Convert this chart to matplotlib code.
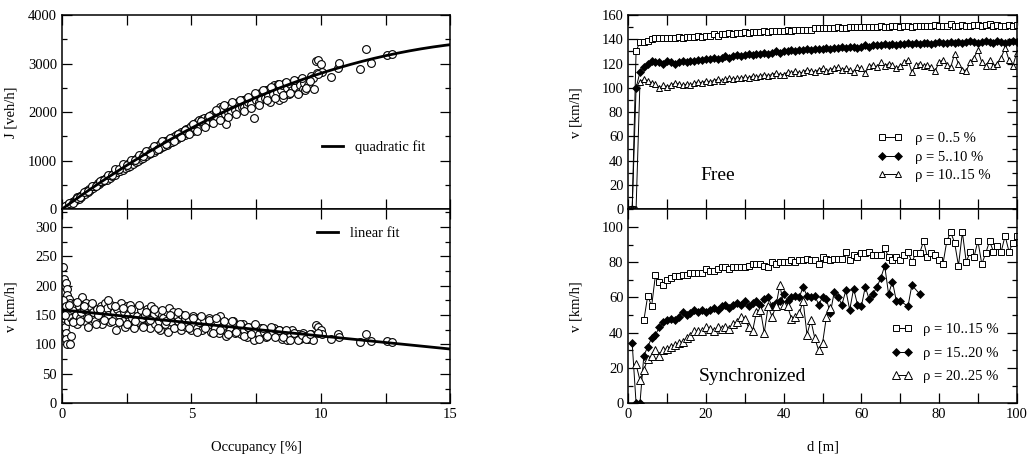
import numpy as np
import matplotlib.pyplot as plt
from matplotlib.ticker import MultipleLocator

plt.rcParams['font.family'] = ['Liberation Serif', 'DejaVu Serif']
plt.rcParams['font.size'] = 10.5

# ---- left: flow and speed vs occupancy (single vehicle data) ----
occ_J = [0.05, 0.1, 0.15, 0.2, 0.25, 0.3, 0.35, 0.4, 0.45, 0.5, 0.55, 0.6, 0.65, 0.7, 0.75, 0.8,
         0.85, 0.9, 0.95, 1.0, 1.05, 1.1, 1.15, 1.2, 1.25, 1.3, 1.35, 1.4, 1.45, 1.5, 1.55, 1.6,
         1.65, 1.7, 1.75, 1.8, 1.85, 1.9, 1.95, 2.0, 2.05, 2.1, 2.15, 2.2, 2.25, 2.3, 2.35, 2.4,
         2.45, 2.5, 2.55, 2.6, 2.65, 2.7, 2.75, 2.8, 2.85, 2.9, 2.95, 3.0, 3.05, 3.1, 3.15, 3.2,
         3.25, 3.3, 3.35, 3.4, 3.45, 3.5, 3.55, 3.6, 3.65, 3.7, 3.75, 3.8, 3.85, 3.9, 3.95, 4.0,
         4.05, 4.1, 4.15, 4.2, 4.25, 4.3, 4.35, 4.4, 4.45, 4.5, 4.55, 4.6, 4.65, 4.7, 4.75, 4.8,
         4.85, 4.9, 4.95, 5.0, 5.05, 5.1, 5.15, 5.2, 5.25, 5.3, 5.35, 5.4, 5.45, 5.5, 5.6, 5.65,
         5.7, 5.75, 5.8, 5.85, 5.9, 5.95, 6.0, 6.05, 6.1, 6.15, 6.2, 6.3, 6.35, 6.4, 6.5, 6.55,
         6.35, 6.65, 6.7, 6.8, 6.85, 6.9, 6.95, 7.0, 7.05, 7.1, 7.15, 7.2, 7.25, 7.3, 7.4, 7.45,
         7.5, 7.55, 7.6, 7.65, 7.7, 7.8, 7.85, 7.9, 7.95, 8.0, 8.05, 8.1, 8.15, 8.2, 8.3, 8.35,
         8.4, 8.45, 8.5, 8.55, 8.6, 8.7, 8.75, 8.8, 8.9, 8.95, 9.0, 9.1, 9.15, 9.2, 9.3, 9.35,
         9.4, 9.5, 9.6, 9.7, 9.75, 9.8, 9.85, 9.9, 10.0, 10.05, 10.4, 10.65, 10.7, 11.5, 11.75,
         11.95, 12.55, 12.75]
J = [20, 50, 40, 90, 80, 130, 100, 160, 150, 200, 190, 250, 220, 280, 260, 300,
     340, 320, 380, 360, 410, 400, 450, 430, 480, 470, 500, 540, 520, 560, 600, 580,
     620, 650, 610, 680, 640, 700, 690, 740, 700, 780, 760, 810, 790, 840, 800, 870,
     850, 910, 880, 950, 900, 980, 940, 1010, 970, 1050, 1000, 1080, 1030, 1120, 1060, 1150,
     1100, 1180, 1130, 1210, 1160, 1250, 1190, 1280, 1220, 1310, 1250, 1340, 1280, 1370, 1310, 1400,
     1330, 1430, 1360, 1460, 1390, 1490, 1420, 1530, 1450, 1550, 1480, 1590, 1500, 1620, 1540, 1650,
     1570, 1680, 1600, 1720, 1620, 1760, 1650, 1790, 1690, 1830, 1720, 1850, 1750, 1880, 1780, 1900,
     1820, 1950, 1850, 1970, 1880, 2020, 1900, 2050, 2100, 1940, 2080, 1970, 2120, 2000, 2150, 2030,
     1760, 2180, 2050, 2200, 2080, 2230, 2110, 2250, 2100, 2270, 2150, 2200, 2300, 2160, 1870, 2330,
     2250, 2370, 2200, 2400, 2280, 2420, 2300, 2450, 2340, 2480, 2200, 2500, 2380, 2550, 2420, 2580,
     2250, 2460, 2560, 2300, 2600, 2500, 2380, 2580, 2450, 2600, 2520, 2650, 2420, 2550, 2480, 2600,
     2450, 2560, 2750, 2700, 2480, 3060, 2800, 3070, 3000, 2820, 2720, 2900, 3010, 2890, 3300,
     3010, 3180, 3190]
# second batch of flow points (fills the cloud)
occ_J_b = [0.12, 0.27, 0.42, 0.57, 0.72, 0.87, 1.02, 1.17, 1.32, 1.47, 1.62, 1.77, 1.92, 2.07, 2.22, 2.37,
           2.52, 2.67, 2.82, 2.97, 3.12, 3.27, 3.42, 3.57, 3.72, 3.87, 4.02, 4.17, 4.32, 4.47, 4.62, 4.77,
           4.92, 5.07, 5.22, 5.37, 5.52, 5.67, 5.82, 5.97, 6.12, 6.27, 6.42, 6.57, 6.72, 6.87, 7.02, 7.17,
           7.32, 7.47, 7.62, 7.77, 7.92, 8.07, 8.22, 8.37, 8.52, 8.67, 8.82, 8.97, 9.12, 9.27, 9.42, 9.57, 9.9]
J_b = [60, 120, 140, 240, 250, 350, 370, 470, 490, 590, 600, 700, 710, 820, 830, 930,
       920, 1020, 1020, 1120, 1090, 1200, 1160, 1300, 1250, 1400, 1350, 1470, 1400, 1560, 1480, 1640,
       1560, 1750, 1620, 1820, 1700, 1920, 1770, 2050, 1830, 2140, 1900, 2200, 1960, 2250, 2020, 2320,
       2090, 2400, 2150, 2460, 2240, 2520, 2300, 2570, 2350, 2620, 2400, 2660, 2380, 2700, 2500, 2640, 2780]

occ_v = [0.05, 0.1, 0.12, 0.15, 0.2, 0.22, 0.28, 0.3, 0.08, 0.1, 0.12, 0.15, 0.18, 0.2, 0.3, 0.35,
         0.25, 0.05, 0.05, 0.15, 0.3, 0.35, 0.4, 0.45, 0.5, 0.55, 0.6, 0.65, 0.7, 0.75, 0.8, 0.85,
         0.9, 0.95, 1.0, 1.05, 1.1, 1.15, 1.2, 1.3, 1.35, 1.4, 1.5, 1.55, 1.6, 1.65, 1.7, 1.75,
         1.8, 1.85, 1.9, 2.0, 2.05, 2.1, 2.15, 2.2, 2.3, 2.35, 2.4, 2.45, 2.5, 2.55, 2.6, 2.65,
         2.7, 2.75, 2.8, 2.85, 2.9, 3.0, 3.05, 3.1, 3.15, 3.2, 3.3, 3.35, 3.4, 3.45, 3.5, 3.55,
         3.6, 3.7, 3.75, 3.8, 3.85, 3.9, 4.0, 4.05, 4.1, 4.15, 4.2, 4.25, 4.3, 4.4, 4.45, 4.5,
         4.6, 4.65, 4.7, 4.75, 4.8, 4.9, 5.0, 5.05, 5.1, 5.2, 5.25, 5.3, 5.4, 5.5, 5.6, 5.7,
         5.75, 5.8, 5.9, 6.0, 6.05, 6.1, 6.2, 6.3, 6.35, 6.4, 6.5, 6.6, 6.7, 6.75, 6.8, 6.9,
         7.0, 7.05, 7.15, 7.2, 7.3, 7.4, 7.45, 7.5, 7.6, 7.7, 7.8, 7.9, 8.0, 8.1, 8.2, 8.3,
         8.4, 8.5, 8.6, 8.7, 8.8, 8.9, 9.0, 9.1, 9.2, 9.3, 9.4, 9.5, 9.6, 9.7, 9.8, 9.9,
         10.0, 10.05, 10.4, 10.65, 10.7, 11.5, 11.75, 11.95, 12.55, 12.75]
v_occ = [232, 212, 200, 205, 195, 185, 178, 170, 160, 145, 130, 120, 110, 100, 100, 115,
         140, 175, 150, 165, 155, 145, 160, 140, 170, 150, 135, 165, 145, 155, 180, 160,
         140, 170, 130, 150, 165, 145, 155, 140, 160, 150, 165, 135, 158, 170, 145, 162,
         150, 138, 168, 155, 145, 125, 160, 150, 170, 140, 155, 130, 165, 150, 140, 168,
         145, 155, 128, 160, 148, 138, 158, 145, 132, 150, 160, 140, 128, 165, 145, 152,
         135, 155, 140, 125, 150, 145, 135, 155, 122, 162, 145, 138, 155, 130, 148, 140,
         125, 150, 138, 145, 130, 142, 125, 148, 135, 128, 145, 138, 125, 142, 132, 145,
         122, 138, 128, 140, 120, 148, 130, 138, 115, 135, 125, 140, 120, 132, 128, 118,
         135, 125, 112, 130, 120, 108, 132, 125, 118, 128, 122, 112, 125, 118, 128, 115,
         125, 110, 120, 108, 118, 125, 112, 118, 110, 120, 115, 110, 118, 108, 133, 130,
         125, 118, 110, 118, 112, 104, 118, 106, 106, 105]
occ_v_b = [0.12, 0.27, 0.42, 0.57, 0.72, 0.87, 1.02, 1.17, 1.32, 1.47, 1.62, 1.77, 1.92, 2.07, 2.22, 2.37,
           2.52, 2.67, 2.82, 2.97, 3.12, 3.27, 3.42, 3.57, 3.72, 3.87, 4.02, 4.17, 4.32, 4.47, 4.62, 4.77,
           4.92, 5.07, 5.22, 5.37, 5.52, 5.67, 5.82, 5.97, 6.12, 6.27, 6.42, 6.57, 6.72, 6.87, 7.02, 7.17,
           7.32, 7.47, 7.62, 7.77, 7.92, 8.07, 8.22, 8.37, 8.52, 8.67, 8.82, 8.97, 9.12, 9.27, 9.42, 9.57, 9.9]
v_occ_b = [150, 168, 138, 172, 140, 165, 145, 170, 135, 160, 142, 175, 140, 165, 138, 162,
           135, 160, 140, 168, 130, 155, 142, 160, 128, 158, 140, 150, 128, 155, 132, 150,
           128, 145, 122, 148, 128, 142, 120, 145, 125, 140, 118, 140, 122, 135, 115, 130,
           118, 135, 110, 128, 115, 130, 112, 124, 112, 125, 108, 120, 108, 116, 110, 118, 120]

# fit parameters
quad_a, quad_b = 388.0, -10.8      # J = a*occ + b*occ^2
lin_v0, lin_slope = 159.0, -4.45   # v = v0 + slope*occ

# ---- right: speed vs distance headway ----
d_free = np.arange(1, 101)
v_free_0_5 = [0, 130, 138, 138, 139, 140, 141, 141, 141, 141, 141, 141, 142, 141, 142, 142, 142, 143, 142, 143,
              143, 144, 143, 144, 144, 145, 144, 145, 145, 146, 145, 146, 146, 146, 147, 146, 147, 147, 147, 147,
              148, 147, 148, 148, 148, 148, 148, 149, 149, 149, 149, 149, 149, 150, 149, 149, 150, 150, 150, 150,
              150, 150, 150, 150, 151, 150, 150, 151, 151, 150, 151, 151, 150, 151, 151, 151, 151, 151, 152, 151,
              151, 151, 153, 151, 151, 152, 151, 151, 152, 152, 151, 152, 153, 151, 152, 151, 151, 152, 151, 152]
v_free_5_10 = [0, 100, 113, 117, 120, 122, 121, 121, 120, 122, 121, 120, 121, 122, 121, 122, 122, 123, 123, 124,
               124, 125, 124, 125, 126, 125, 126, 127, 126, 127, 128, 127, 128, 128, 129, 128, 129, 130, 129, 130,
               130, 131, 130, 131, 131, 132, 131, 132, 132, 132, 133, 132, 133, 133, 134, 133, 134, 134, 133, 134,
               135, 134, 135, 135, 135, 136, 135, 136, 135, 136, 136, 137, 136, 137, 136, 137, 137, 136, 137, 138,
               137, 137, 138, 137, 138, 137, 138, 139, 138, 137, 138, 139, 138, 137, 139, 138, 137, 138, 139, 138]
v_free_10_15 = [0, 0, 105, 107, 106, 104, 103, 100, 102, 101, 102, 104, 103, 102, 103, 102, 104, 105, 104, 106,
                105, 106, 107, 106, 107, 108, 107, 108, 108, 109, 108, 110, 109, 110, 111, 110, 111, 112, 111, 111,
                113, 112, 114, 112, 113, 115, 114, 113, 115, 116, 114, 115, 116, 117, 115, 116, 115, 113, 117, 116,
                112, 118, 119, 117, 121, 118, 120, 119, 116, 118, 121, 123, 113, 119, 120, 118, 119, 117, 114, 121,
                123, 119, 117, 128, 120, 115, 114, 121, 125, 131, 121, 118, 123, 118, 120, 125, 133, 123, 118, 129]

d_sync_10_15 = np.arange(4, 101)
v_sync_10_15 = [47, 61, 55, 73, 69, 67, 70, 71, 72, 72, 73, 73, 74, 74, 74, 74, 76, 75, 75, 76,
                77, 77, 76, 77, 77, 77, 77, 78, 79, 79, 79, 78, 77, 80, 79, 80, 80, 80, 81, 80,
                81, 81, 82, 81, 81, 79, 83, 82, 81, 82, 82, 82, 86, 81, 84, 83, 85, 85, 86, 84,
                84, 84, 88, 83, 81, 83, 81, 84, 86, 80, 85, 85, 92, 83, 85, 84, 81, 79, 92, 97,
                91, 78, 97, 80, 86, 83, 92, 79, 85, 92, 86, 89, 86, 95, 86, 91, 95]
d_sync_15_20 = list(range(1, 71)) + [72, 73, 75]
v_sync_15_20 = [34, 0, 0, 27, 32, 37, 39, 43, 46, 47, 48, 47, 49, 52, 50, 51, 53, 52, 53, 52,
                53, 54, 53, 55, 56, 54, 56, 57, 56, 58, 55, 57, 58, 56, 59, 60, 55, 57, 58, 62,
                58, 60, 61, 60, 66, 61, 60, 61, 56, 60, 59, 51, 63, 60, 56, 64, 53, 65, 56, 55,
                66, 59, 62, 66, 71, 78, 62, 69, 58, 58, 55, 67, 62]
d_sync_20_25 = np.arange(2, 53)
v_sync_20_25 = [22, 13, 19, 25, 27, 30, 27, 30, 31, 32, 33, 34, 35, 37, 38, 41, 41, 41, 43, 42,
                41, 43, 42, 43, 42, 45, 46, 49, 48, 43, 41, 52, 53, 40, 55, 49, 55, 67, 56, 55,
                48, 49, 51, 58, 39, 47, 37, 30, 34, 49, 54]

fig = plt.figure(figsize=(10.29, 4.59), dpi=100)
ax_J = fig.add_axes([0.0600, 0.5440, 0.3778, 0.4233])
ax_v = fig.add_axes([0.0600, 0.1214, 0.3778, 0.4226])
ax_free = fig.add_axes([0.6106, 0.5440, 0.3775, 0.4233])
ax_sync = fig.add_axes([0.6106, 0.1214, 0.3775, 0.4226])

occ_fit = np.linspace(0, 15, 200)
circ = dict(ls='none', marker='o', ms=5.6, mfc='white', mec='black', mew=0.8)

ax_J.plot(occ_J + occ_J_b, J + J_b, **circ)
ax_J.plot(occ_fit, quad_a * occ_fit + quad_b * occ_fit ** 2, color='black', lw=2.0, label='quadratic fit')
ax_J.set_xlim(0, 15)
ax_J.set_ylim(0, 4000)
ax_J.yaxis.set_major_locator(MultipleLocator(1000))
ax_J.yaxis.set_minor_locator(MultipleLocator(500))
ax_J.set_ylabel('J [veh/h]')
ax_J.tick_params(labelbottom=False)
ax_J.legend(loc='center left', bbox_to_anchor=(0.67, 0.32), frameon=False, borderpad=0,
            borderaxespad=0, handlelength=1.45, handletextpad=0.8)

ax_v.plot(occ_v + occ_v_b, v_occ + v_occ_b, **circ)
ax_v.plot(occ_fit, lin_v0 + lin_slope * occ_fit, color='black', lw=2.0, label='linear fit')
ax_v.set_xlim(0, 15)
ax_v.set_ylim(0, 330)
ax_v.yaxis.set_major_locator(MultipleLocator(50))
ax_v.yaxis.set_minor_locator(MultipleLocator(25))
ax_v.set_ylabel('v [km/h]')
ax_v.set_xlabel('Occupancy [%]')
ax_v.legend(loc='center left', bbox_to_anchor=(0.657, 0.877), frameon=False, borderpad=0,
            borderaxespad=0, handlelength=1.45, handletextpad=0.8)

for ax in (ax_J, ax_v):
    ax.xaxis.set_major_locator(MultipleLocator(5))
    ax.xaxis.set_minor_locator(MultipleLocator(2.5))

# free flow panel
ax_free.plot(d_free, v_free_0_5, color='black', lw=0.7, marker='s', ms=4, mfc='white', mew=0.7,
             label='\u03c1 = 0..5 %')
ax_free.plot(d_free, v_free_5_10, color='black', lw=0.7, marker='D', ms=3.8, mfc='black', mew=0.5,
             label='\u03c1 = 5..10 %')
ax_free.plot(d_free, v_free_10_15, color='black', lw=0.7, marker='^', ms=4.8, mfc='white', mew=0.7,
             label='\u03c1 = 10..15 %')
ax_free.set_xlim(0, 100)
ax_free.set_ylim(0, 160)
ax_free.yaxis.set_major_locator(MultipleLocator(20))
ax_free.yaxis.set_minor_locator(MultipleLocator(10))
ax_free.set_ylabel('v [km/h]')
ax_free.tick_params(labelbottom=False)
ax_free.text(23, 28, 'Free', fontsize=14, ha='center', va='center')
ax_free.legend(loc='center left', bbox_to_anchor=(0.643, 0.268), frameon=False, borderpad=0,
               borderaxespad=0, numpoints=2, handlelength=1.65, handletextpad=0.9, labelspacing=0.37)

# synchronized panel
ax_sync.plot(d_sync_10_15, v_sync_10_15, color='black', lw=0.7, marker='s', ms=5, mfc='white', mew=0.7,
             label='\u03c1 = 10..15 %')
ax_sync.plot(d_sync_15_20, v_sync_15_20, color='black', lw=0.7, marker='D', ms=4.5, mfc='black', mew=0.5,
             label='\u03c1 = 15..20 %')
ax_sync.plot(d_sync_20_25, v_sync_20_25, color='black', lw=0.7, marker='^', ms=5.5, mfc='white', mew=0.7,
             label='\u03c1 = 20..25 %')
ax_sync.set_xlim(0, 100)
ax_sync.set_ylim(0, 110)
ax_sync.yaxis.set_major_locator(MultipleLocator(20))
ax_sync.yaxis.set_minor_locator(MultipleLocator(10))
ax_sync.set_ylabel('v [km/h]')
ax_sync.set_xlabel('d [m]')
ax_sync.text(32, 15, 'Synchronized', fontsize=14, ha='center', va='center')
ax_sync.legend(loc='center left', bbox_to_anchor=(0.679, 0.259), frameon=False, borderpad=0,
               borderaxespad=0, numpoints=2, handlelength=1.4, handletextpad=0.75, labelspacing=0.7)

for ax in (ax_free, ax_sync):
    ax.xaxis.set_major_locator(MultipleLocator(20))
    ax.xaxis.set_minor_locator(MultipleLocator(10))

for ax in (ax_J, ax_v, ax_free, ax_sync):
    ax.tick_params(which='both', direction='in', top=True, right=True, width=0.9)
    ax.tick_params(which='major', length=7.5)
    ax.tick_params(axis='y', which='minor', length=3.6)
    ax.tick_params(axis='x', which='minor', length=7.5)
    for s in ax.spines.values():
        s.set_linewidth(1.1)

ax_J.yaxis.set_label_coords(-0.115, 0.5)
ax_v.yaxis.set_label_coords(-0.115, 0.5)
ax_free.yaxis.set_label_coords(-0.119, 0.5)
ax_sync.yaxis.set_label_coords(-0.119, 0.5)
ax_v.xaxis.set_label_coords(0.5, -0.194)
ax_sync.xaxis.set_label_coords(0.5, -0.194)

fig.savefig('out.png', dpi=100)
